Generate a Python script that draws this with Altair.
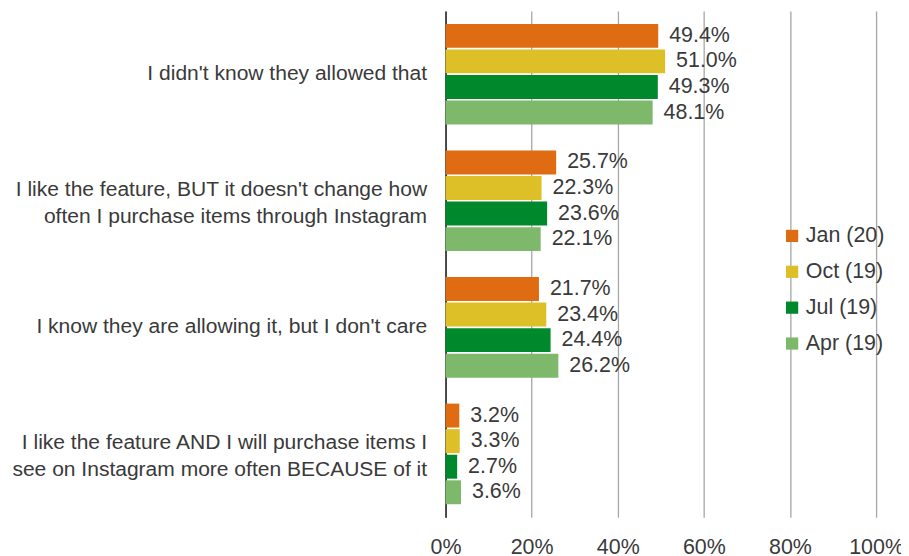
import altair as alt
import pandas as pd

categories = [
    "I didn't know they allowed that",
    "I like the feature, BUT it doesn't change how|often I purchase items through Instagram",
    "I know they are allowing it, but I don't care",
    "I like the feature AND I will purchase items I|see on Instagram more often BECAUSE of it",
]
series = ["Jan (20)", "Oct (19)", "Jul (19)", "Apr (19)"]
colors = ["#DF6C12", "#DDBF27", "#00882C", "#7DB86B"]
values = {
    "Jan (20)": [49.4, 25.7, 21.7, 3.2],
    "Oct (19)": [51.0, 22.3, 23.4, 3.3],
    "Jul (19)": [49.3, 23.6, 24.4, 2.7],
    "Apr (19)": [48.1, 22.1, 26.2, 3.6],
}
x_ticks = [0, 20, 40, 60, 80, 100]

rows = []
for s in series:
    for c, v in zip(categories, values[s]):
        rows.append({"category": c, "series": s, "value": v, "label": f"{v:.1f}%"})
df = pd.DataFrame(rows)

FONT = "Liberation Sans"
TXT = "#3a3a3a"
FS = 21.5

y_enc = alt.Y("category:N", sort=categories,
              scale=alt.Scale(paddingInner=0.2, paddingOuter=0.1),
              axis=alt.Axis(title=None, labelExpr="split(datum.label, '|')",
                            labelFontSize=21.1, labelFont=FONT, labelColor=TXT,
                            labelLineHeight=27, labelPadding=19, labelLimit=440,
                            labelOffset={"condition": {"test": "indexof(datum.value, '|') >= 0", "value": -11},
                                         "value": 0},
                            ticks=False, domain=True, domainColor="#222222",
                            domainWidth=1.5, grid=False))
yoff = alt.YOffset("series:N", sort=series, scale=alt.Scale(paddingInner=0.04))
x_enc = alt.X("value:Q", scale=alt.Scale(domain=[0, 100], nice=False),
              axis=alt.Axis(title=None, values=x_ticks, labelExpr="datum.value + '%'",
                            labelFontSize=21.5, labelFont=FONT, labelColor=TXT,
                            labelPadding=19, labelFlush=False, ticks=False,
                            grid=True, gridColor="#a6a6a6", gridWidth=1.3,
                            domain=False))

base = alt.Chart(df).encode(y=y_enc, yOffset=yoff)

bars = base.mark_bar(size=24).encode(
    x=x_enc,
    color=alt.Color("series:N", sort=series,
                    scale=alt.Scale(domain=series, range=colors),
                    legend=alt.Legend(title=None, orient="none", legendX=337, legendY=215,
                                      symbolType="square", symbolSize=150,
                                      symbolStrokeWidth=0, labelFontSize=FS,
                                      labelFont=FONT, labelColor=TXT,
                                      rowPadding=13, labelOffset=3)),
)

texts = base.mark_text(align="left", baseline="middle", dx=11, fontSize=FS,
                       font=FONT, color=TXT).encode(
    x=alt.X("value:Q"),
    text="label:N",
)

chart = alt.layer(bars, texts).properties(
    width=432, height=508,
    autosize=alt.AutoSizeParams(type="none"),
    padding={"left": 439, "top": 2, "right": 25, "bottom": 38},
).configure_view(stroke=None)

chart.save("out.html", embed_options={"renderer": "svg", "actions": False})
